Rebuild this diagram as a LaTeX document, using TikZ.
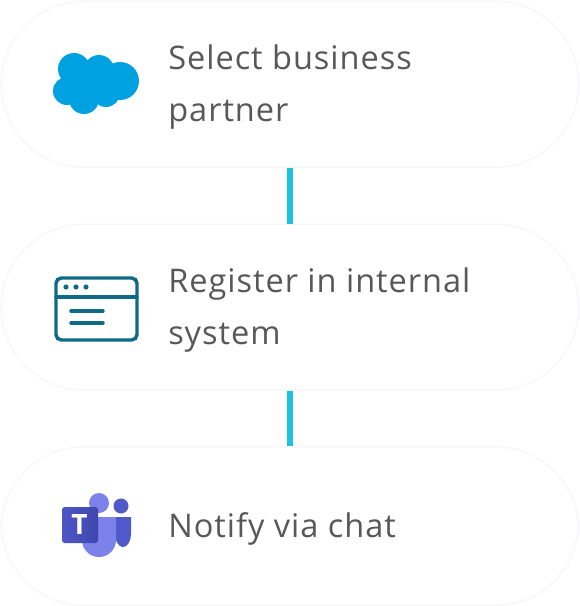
\documentclass[tikz,border=0pt]{standalone}
\usepackage{fontspec}
\setmainfont{Open Sans}[LetterSpace=3]
\usepackage{xcolor}
\definecolor{cardline}{HTML}{F7F6F9}
\definecolor{linkcyan}{HTML}{1CC3E0}
\definecolor{cloudblue}{HTML}{00A1E0}
\definecolor{windowteal}{HTML}{0F6A85}
\definecolor{labelgray}{HTML}{585858}
\definecolor{teamslight}{HTML}{7B83EB}
\definecolor{teamsmid}{HTML}{5059C9}
\definecolor{teamsdark}{HTML}{3F47AE}
\begin{document}
\begin{tikzpicture}[
  x=0.75pt, y=-0.75pt,
  card/.style={draw=cardline, line width=1pt, rounded corners=62pt, fill=white, minimum width=433pt, inner sep=0pt, anchor=north west},
  cardtext/.style={text=labelgray, font=\fontsize{24.4pt}{39pt}\selectfont, align=left, anchor=west, inner sep=0pt},
  link/.style={draw=linkcyan, line width=4.5pt},
  windowline/.style={draw=windowteal, line width=2.6pt, line cap=round}
]
\useasboundingbox (0,0) rectangle (579,606);
\node[card, minimum height=124.5pt] (select) at (0.5,0.5) {};
\node[card, minimum height=124.5pt] (register) at (0.5,223.5) {};
\node[card, minimum height=119pt] (notify) at (0.5,446) {};

\node[cardtext] (selecttext) at (168,87.5) {Select business\\partner};
\node[cardtext] (registertext) at (168,310.5) {Register in internal\\system};
\node[cardtext] (notifytext) at (168,528.5) {Notify via chat};

\draw[link] (select) -- (register);
\draw[link] (register) -- (notify);

% cloud
\fill[cloudblue] (74,69) circle (16) (99,70) circle (15) (120,81) circle (19)
  (67,91) circle (14) (84,99) circle (15) (106,93) circle (14) (92,82) circle (21);

% window
\draw[windowline, rounded corners=4pt] (56,278) rectangle (137,340);
\draw[windowline] (56,297) -- (137,297);
\draw[windowline] (71,311) -- (103,311);
\draw[windowline] (71,323) -- (103,323);
\fill[windowteal] (66,287) circle (2.6) (76,287) circle (2.6) (86,287) circle (2.6);

% teams
\fill[teamsmid] (121,506) circle (7.5);
\fill[teamsmid] (115,517) -- (131,517) -- (131,534) arc[start angle=0, end angle=180, x radius=8, y radius=13] -- cycle;
\fill[teamslight] (99,503) circle (10);
\fill[teamslight] (82,517) -- (116,517) -- (116,540) arc[start angle=0, end angle=180, x radius=17, y radius=17] -- cycle;
\shade[left color=teamsmid!85!teamsdark, right color=teamsdark, rounded corners=2pt] (62,507) rectangle (98,543);
\node[font=\bfseries\fontsize{21pt}{21pt}\selectfont, text=white, inner sep=0pt] (teamst) at (79.5,524) {T};
\end{tikzpicture}
\end{document}
